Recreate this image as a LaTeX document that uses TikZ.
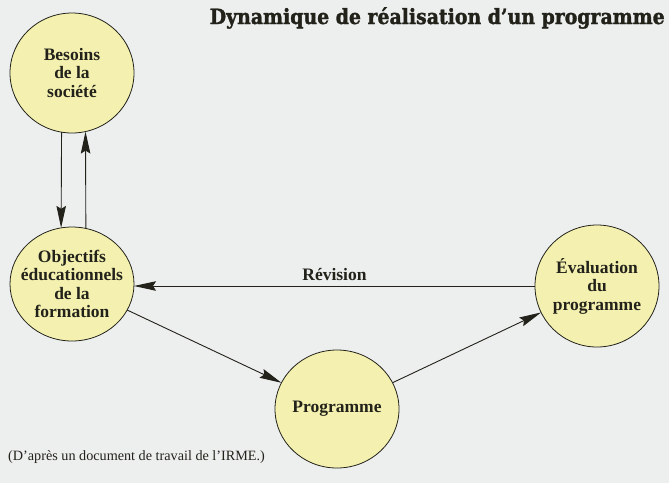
\documentclass[tikz,border=0pt]{standalone}
\usepackage{fontspec}
\setmainfont{Liberation Serif}
\newfontfamily\titlefont[FakeBold=1.5]{DejaVu Serif Condensed Bold}
\usetikzlibrary{shapes.geometric,arrows.meta}
\definecolor{bgc}{HTML}{EDEFEF}
\definecolor{fillc}{HTML}{F4F1B0}
\definecolor{inkc}{HTML}{22221A}
\tikzset{
  bubble/.style={ellipse, draw=inkc, line width=0.8pt, fill=fillc, inner sep=0pt, outer sep=0pt,
    minimum width=124pt},
  txt/.style={align=center, text=inkc, font=\fontsize{17.5}{18.5}\selectfont\bfseries, inner sep=0pt},
  arr/.style={draw=inkc, line width=0.9pt, -{Stealth[length=22pt,width=9.5pt,inset=3pt]}},
}
\begin{document}
\begin{tikzpicture}[x=1pt,y=-1pt]
\fill[bgc] (0,0) rectangle (669,483);
\useasboundingbox (0,0) rectangle (669,483);

\node[anchor=base east, inner sep=0pt, text=inkc] (title) at (665,24)
  {\resizebox{455pt}{!}{\titlefont Dynamique de réalisation d’un programme}};

\node[bubble, minimum height=120pt, label={[txt]center:{Besoins\\de la\\société}}] (bes) at (72,73) {};
\node[bubble, minimum height=114pt, label={[txt]center:{Objectifs\\éducationnels\\de la\\formation}}] (obj) at (72,284) {};
\node[bubble, minimum height=122pt, label={[txt]center:{Évaluation\\du\\programme}}] (eval) at (597,286) {};
\node[bubble, minimum height=118pt, label={[txt]center:{Programme}}] (prog) at (337,409) {};

\draw[arr] (bes.-100.5) -- (obj.101.1);
\draw[arr] (obj.76.9) -- (bes.-77.5);
\draw[arr] (eval.west) -- (obj.east |- eval.west)
  node[pos=0.5, above=5pt, txt] (rev) {Révision};
\draw[arr] (obj) -- (prog);
\draw[arr] (prog) -- (eval);

\node[anchor=base west, inner sep=0pt, text=inkc, font=\fontsize{14.2}{16}\selectfont] (cap) at (8,460)
  {(D’après un document de travail de l’IRME.)};
\end{tikzpicture}
\end{document}
